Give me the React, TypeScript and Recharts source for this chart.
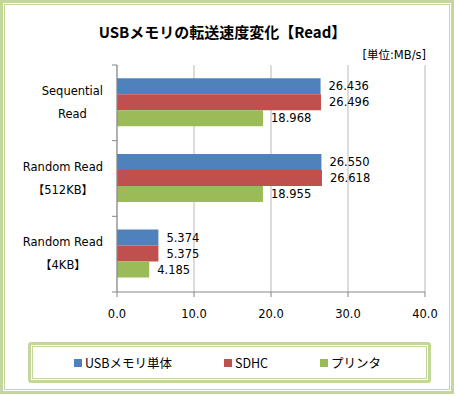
import { BarChart, Bar, XAxis, YAxis, CartesianGrid, LabelList } from 'recharts';

// Read throughput (MB/s) per test pattern
const categories = ['Sequential\nRead', 'Random Read\n【512KB】', 'Random Read\n【4KB】'];
const usbValues = [26.436, 26.55, 5.374];
const sdhcValues = [26.496, 26.618, 5.375];
const printerValues = [18.968, 18.955, 4.185];
const xTicks = [0, 10, 20, 30, 40];

const series = [
  { key: 'usb', name: 'USBメモリ単体', color: '#4f81bd' },
  { key: 'sdhc', name: 'SDHC', color: '#c0504d' },
  { key: 'printer', name: 'プリンタ', color: '#9bbb59' },
];

const data = categories.map((name, i) => ({
  name,
  usb: usbValues[i],
  sdhc: sdhcValues[i],
  printer: printerValues[i],
}));

const FONT = '"DejaVu Sans", "Noto Sans CJK JP", sans-serif';
const CJK_FONT = '"Noto Sans CJK JP", sans-serif';
const FONT_SIZE = 11.5;
const BORDER_GREEN = '#c3d69b';
const AXIS_GRAY = '#868686';
const GRID_GRAY = '#b9b9b9';

const CHART_W = 456;
const CHART_H = 396;
const MARGIN = { top: 65, right: 31, left: 0, bottom: 74 };
const X_AXIS_H = 30;
const PLOT_H = CHART_H - MARGIN.top - MARGIN.bottom - X_AXIS_H;

let measureCtx: CanvasRenderingContext2D | null = null;
function textWidth(s: string) {
  if (!measureCtx) measureCtx = document.createElement('canvas').getContext('2d');
  if (!measureCtx) return s.length * 7;
  measureCtx.font = `${FONT_SIZE}px ${FONT}`;
  return measureCtx.measureText(s).width;
}

// Two-line category label, lines centred on each other and the block right-aligned,
// plus the tick marks on the band boundaries.
function CategoryTick(props: any) {
  const { x, y, payload, index } = props;
  const half = payload?.offset > 0 ? payload.offset : PLOT_H / categories.length / 2;
  const lines = String(payload.value).split('\n');
  const right = x - 14;
  const w = Math.max(...lines.map(textWidth));
  const cx = right - w / 2;
  const last = index === categories.length - 1;
  return (
    <g>
      <line x1={x - 5} x2={x} y1={y - half} y2={y - half} stroke={AXIS_GRAY} />
      {last && <line x1={x - 5} x2={x} y1={y + half} y2={y + half} stroke={AXIS_GRAY} />}
      {lines.map((line, i) => (
        <text
          key={i}
          x={cx}
          y={y + (i === 0 ? -12 : 11) + 4}
          textAnchor="middle"
          fontSize={FONT_SIZE}
          fontFamily={FONT}
          fill="#000"
        >
          {line}
        </text>
      ))}
    </g>
  );
}

function FramedBox({ style, children }: { style: React.CSSProperties; children?: React.ReactNode }) {
  return (
    <div
      style={{
        position: 'absolute',
        boxSizing: 'border-box',
        border: `3px solid ${BORDER_GREEN}`,
        borderRadius: 3,
        padding: 1,
        background: '#fff',
        ...style,
      }}
    >
      <div
        style={{
          boxSizing: 'border-box',
          width: '100%',
          height: '100%',
          border: `1px solid ${BORDER_GREEN}`,
        }}
      >
        {children}
      </div>
    </div>
  );
}

export default function App() {
  return (
    <div
      style={{
        position: 'absolute',
        left: 0,
        top: 0,
        width: CHART_W,
        height: CHART_H,
        background: '#fff',
        fontFamily: FONT,
      }}
    >
      <FramedBox style={{ left: 0, top: 0, width: 454, height: 394, borderRadius: 0 }} />

      <div
        style={{
          position: 'absolute',
          left: 0,
          width: 445,
          top: 22,
          textAlign: 'center',
          fontFamily: CJK_FONT,
          fontWeight: 700,
          fontSize: 15,
          lineHeight: '20px',
          color: '#000',
        }}
      >
        USBメモリの転送速度変化【Read】
      </div>
      <div
        style={{
          position: 'absolute',
          right: CHART_W - 426,
          top: 47,
          fontSize: 11.5,
          lineHeight: '16px',
          color: '#000',
        }}
      >
        [単位:MB/s]
      </div>

      <div style={{ position: 'absolute', left: 0, top: 0 }}>
        <BarChart
          width={CHART_W}
          height={CHART_H}
          data={data}
          layout="vertical"
          margin={MARGIN}
          barCategoryGap="17.5%"
          barGap={0}
        >
          <CartesianGrid
            xAxisId="main"
            yAxisId="cat"
            horizontal={false}
            stroke={GRID_GRAY}
          />
          <XAxis
            xAxisId="main"
            type="number"
            domain={[0, 40]}
            ticks={xTicks}
            interval={0}
            height={X_AXIS_H}
            tickFormatter={(v: number) => v.toFixed(1)}
            tick={{ fontSize: FONT_SIZE, fontFamily: FONT, fill: '#000' }}
            tickSize={5}
            tickMargin={13}
            axisLine={{ stroke: AXIS_GRAY }}
            tickLine={{ stroke: AXIS_GRAY }}
          />
          <XAxis
            xAxisId="top"
            orientation="top"
            type="number"
            domain={[0, 40]}
            height={0}
            tick={false}
            tickLine={false}
            axisLine={{ stroke: GRID_GRAY }}
          />
          <YAxis
            yAxisId="cat"
            type="category"
            dataKey="name"
            width={117}
            interval={0}
            tickSize={0}
            tickMargin={0}
            tickLine={false}
            axisLine={{ stroke: AXIS_GRAY }}
            tick={<CategoryTick />}
          />
          {series.map((s) => (
            <Bar
              key={s.key}
              dataKey={s.key}
              name={s.name}
              fill={s.color}
              xAxisId="main"
              yAxisId="cat"
              isAnimationActive={false}
            >
              <LabelList
                dataKey={s.key}
                position="right"
                offset={8}
                formatter={(v: any) => Number(v).toFixed(3)}
                style={{ fontSize: FONT_SIZE, fontFamily: FONT, fill: '#000' }}
              />
            </Bar>
          ))}
        </BarChart>
      </div>

      <FramedBox style={{ left: 28, top: 342, width: 403, height: 41 }}>
        <div
          style={{
            display: 'flex',
            justifyContent: 'center',
            alignItems: 'center',
            gap: 52,
            height: '100%',
            paddingRight: 4,
            fontFamily: CJK_FONT,
            fontSize: 12.5,
            color: '#000',
          }}
        >
          {series.map((s) => (
            <div key={s.key} style={{ display: 'flex', alignItems: 'center' }}>
              <span
                style={{
                  display: 'inline-block',
                  width: 8,
                  height: 8,
                  background: s.color,
                  marginRight: 3,
                }}
              />
              <span>{s.name}</span>
            </div>
          ))}
        </div>
      </FramedBox>
    </div>
  );
}
